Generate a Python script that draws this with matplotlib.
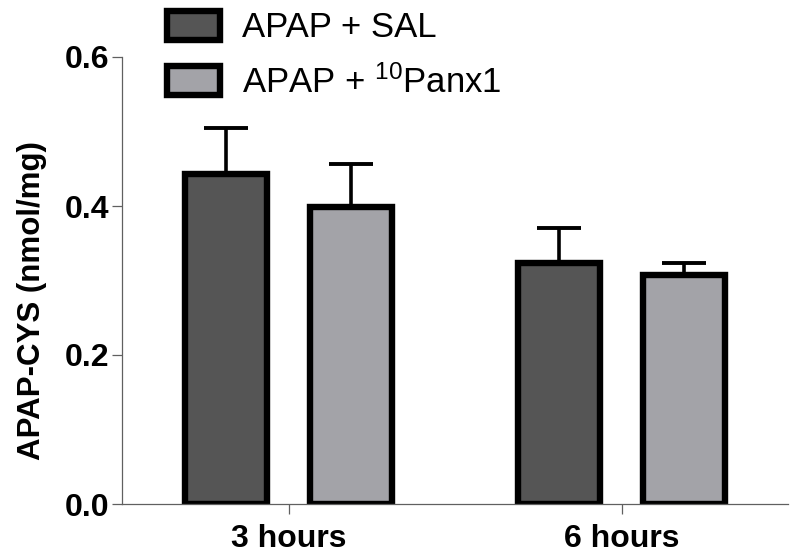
import matplotlib

matplotlib.use("Agg")
import matplotlib.pyplot as plt  # noqa: E402
import numpy as np  # noqa: E402
from matplotlib import rcParams  # noqa: E402

rcParams["font.family"] = "Liberation Sans"
rcParams["mathtext.fontset"] = "custom"
rcParams["mathtext.rm"] = "Liberation Sans"

# data
groups = ["3 hours", "6 hours"]
series_names = ["APAP + SAL", "APAP + $\\mathregular{^{10}}$Panx1"]
sal_means = [0.443, 0.323]
sal_err = [0.062, 0.048]
panx_means = [0.398, 0.3075]
panx_err = [0.058, 0.0165]

colors = ["#555555", "#a3a3a8"]
spine_color = "#606060"

fig = plt.figure(figsize=(8, 5.59), dpi=100)
ax = fig.add_axes([0.1525, 1 - 504 / 559, 0.8325, 447 / 559])

x = np.arange(len(groups))
width = 0.245
offset = 0.1875

for i, (means, errs) in enumerate([(sal_means, sal_err), (panx_means, panx_err)]):
    pos = x + (-offset if i == 0 else offset)
    ax.errorbar(
        pos, means, yerr=[np.zeros(len(errs)), errs], fmt="none",
        ecolor="black", elinewidth=2.6, capsize=16, capthick=2.8, zorder=1,
    )
    ax.bar(
        pos, means, width=width, color=colors[i], edgecolor="black",
        linewidth=4.6, label=series_names[i], zorder=2,
    )

ax.set_xlim(-0.5, 1.5)
ax.set_ylim(0, 0.6)
ax.set_yticks([0.0, 0.2, 0.4, 0.6])
ax.set_yticklabels(["0.0", "0.2", "0.4", "0.6"])
ax.set_xticks(x)
ax.set_xticklabels(groups)

for side in ["top", "right"]:
    ax.spines[side].set_visible(False)
for side in ["left", "bottom"]:
    ax.spines[side].set_color(spine_color)
    ax.spines[side].set_linewidth(0.9)

ax.tick_params(axis="both", colors=spine_color, length=7.5, width=0.9, labelcolor="black")
ax.tick_params(axis="y", pad=1.5, labelsize=23)
ax.tick_params(axis="x", pad=7, labelsize=23)
for lbl in ax.get_xticklabels() + ax.get_yticklabels():
    lbl.set_fontweight("bold")

ax.set_ylabel("APAP-CYS (nmol/mg)", fontsize=22.5, fontweight="bold")
ax.yaxis.set_label_coords(-0.113, 0.454)

leg = ax.legend(
    loc="upper left", bbox_to_anchor=(167 / 800, 1 - 11 / 559), bbox_transform=fig.transFigure,
    frameon=False, fontsize=25, handlelength=1.53, handleheight=0.9,
    handletextpad=0.63, labelspacing=0.6, borderpad=0, borderaxespad=0,
)

fig.savefig("out.png", dpi=100)
